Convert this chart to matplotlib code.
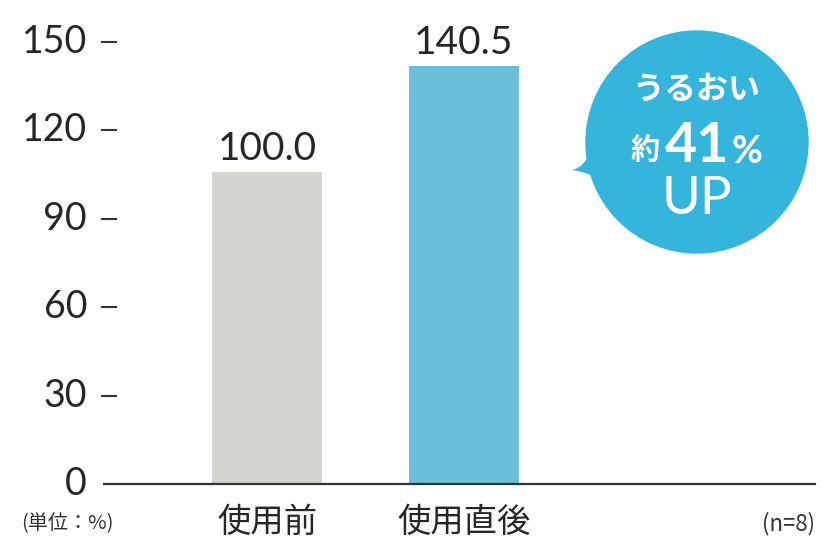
import matplotlib.pyplot as plt
from matplotlib.patches import Circle, PathPatch
from matplotlib.path import Path
from matplotlib import transforms

plt.rcParams['font.family'] = ['Lato', 'Noto Sans CJK JP', 'DejaVu Sans']

categories = ['使用前', '使用直後']
bar_heights = [106, 142]          # heights as drawn in the picture
value_labels = ['100.0', '140.5']
bar_colors = ['#d6d4d1', '#6cbfd9']
yticks = [0, 30, 60, 90, 120, 150]

W, H = 835, 557
fig = plt.figure(figsize=(W / 100, H / 100), dpi=100)
ax = fig.add_axes([104 / W, 73 / H, 711 / W, 442 / H])

x = list(range(len(categories)))
ax.bar(x, bar_heights, width=0.56, color=bar_colors, zorder=2)
ax.set_xlim(-0.827, 2.782)
ax.set_ylim(0, 150)

for xi, h, lab in zip(x, bar_heights, value_labels):
    ax.annotate(lab, (xi, h), xytext=(0, 3), textcoords='offset points',
                ha='center', va='bottom', fontsize=28,
                color='#262626', family='Lato', annotation_clip=False)

for s in ['top', 'right']:
    ax.spines[s].set_visible(False)
ax.spines['bottom'].set_linewidth(1.6)
ax.spines['bottom'].set_color('#333333')
# left spine moved so that the tick dashes sit where the reference has them
ax.spines['left'].set_visible(False)
ax.spines['left'].set_position(('axes', 5 / 711))
ax.set_yticks([t for t in yticks if t != 0])
ax.set_yticklabels([])
ax.tick_params(axis='y', direction='inout', length=11.5, width=1.5,
               color='#333333')
ax.set_xticks([])

# y tick numbers
trans = transforms.blended_transform_factory(fig.transFigure, ax.transData)
for t in yticks:
    ax.text(87 / W, t, str(t), transform=trans, ha='right', va='center',
            fontsize=27, color='#262626', family='Lato')

# category labels
cjk = ['Noto Sans CJK JP', 'DejaVu Sans']
for xi, c in zip(x, categories):
    ax.text(xi, -13.2, c, ha='center', va='center', fontsize=24,
            color='#262626', family=cjk)

fig.text(21 / W, 1 - 524 / H, '(単位：%)', ha='left', va='center', fontsize=14.5,
         color='#333333', family=cjk)
fig.text(815 / W, 1 - 524 / H, '(n=8)', ha='right', va='center', fontsize=16,
         color='#333333', family=cjk)

# speech bubble
bax = fig.add_axes([0, 0, 1, 1])
bax.set_xlim(0, W)
bax.set_ylim(H, 0)
bax.axis('off')
bubble_color = '#34b5dc'
bax.add_patch(Circle((697, 142), 111, color=bubble_color, zorder=1))
tail = Path([(592, 145), (588, 162), (580, 168), (572, 170),
             (586, 172), (596, 176), (604, 186), (600, 160), (592, 145)],
            [Path.MOVETO, Path.CURVE4, Path.CURVE4, Path.CURVE4,
             Path.CURVE4, Path.CURVE4, Path.CURVE4, Path.LINETO, Path.CLOSEPOLY])
bax.add_patch(PathPatch(tail, color=bubble_color, lw=0, zorder=1))

bax.text(696, 90, 'うるおい', ha='center', va='center', fontsize=23,
         fontweight='bold', color='white', family=cjk)
bax.text(645, 150, '約', ha='center', va='center', fontsize=21,
         fontweight='bold', color='white', family=cjk)
bax.text(697, 146, '41', ha='center', va='center', fontsize=40,
         fontweight='bold', color='white', family='Lato')
bax.text(747, 152, '%', ha='center', va='center', fontsize=27,
         fontweight='bold', color='white', family='Lato')
bax.text(697, 199, 'UP', ha='center', va='center', fontsize=38,
         color='white', family='Lato')

fig.savefig('out.png', dpi=100)
